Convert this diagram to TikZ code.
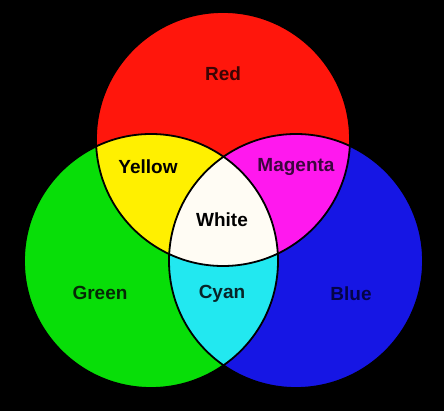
\documentclass[tikz,border=0pt]{standalone}
\usepackage{fontspec}
\setmainfont{Liberation Sans}
\definecolor{mixred}{RGB}{255,22,12}
\definecolor{mixgreen}{RGB}{8,222,8}
\definecolor{mixblue}{RGB}{22,22,228}
\definecolor{mixyellow}{RGB}{255,240,0}
\definecolor{mixmagenta}{RGB}{255,24,238}
\definecolor{mixcyan}{RGB}{34,232,240}
\definecolor{mixwhite}{RGB}{255,252,244}
\definecolor{inkred}{RGB}{60,4,4}
\definecolor{inkgreen}{RGB}{6,40,6}
\definecolor{inkblue}{RGB}{4,4,70}
\definecolor{inkmagenta}{RGB}{60,6,62}
\definecolor{inkcyan}{RGB}{8,36,40}

\tikzset{
  ring/.style={draw=black, line width=1.8pt},
  tag/.style={font=\fontsize{19}{22}\selectfont\bfseries, inner sep=0pt}
}

\begin{document}
\begin{tikzpicture}[x=1pt, y=-1pt]

  % ---- background ----
  \fill[black] (0,0) rectangle (444,411);
  \useasboundingbox (0,0) rectangle (444,411);

  % ---- centres of the three lights ----
  \coordinate (cR) at (223,139);
  \coordinate (cG) at (151,261);
  \coordinate (cB) at (296,261);

  % ---- primaries ----
  \fill[mixred]   (cR) circle (127);
  \fill[mixgreen] (cG) circle (127);
  \fill[mixblue]  (cB) circle (127);

  % ---- pairs ----
  \begin{scope}
    \clip (cR) circle (127);
    \fill[mixyellow]  (cG) circle (127);
    \fill[mixmagenta] (cB) circle (127);
  \end{scope}
  \begin{scope}
    \clip (cG) circle (127);
    \fill[mixcyan] (cB) circle (127);
  \end{scope}

  % ---- all three ----
  \begin{scope}
    \clip (cR) circle (127);
    \clip (cG) circle (127);
    \fill[mixwhite] (cB) circle (127);
  \end{scope}

  % ---- outlines ----
  \draw[ring] (cR) circle (127);
  \draw[ring] (cG) circle (127);
  \draw[ring] (cB) circle (127);

  % ---- labels ----
  \node[tag, text=inkred]     (red)     at (223,74)  {Red};
  \node[tag, text=inkgreen]   (green)   at (100,293) {Green};
  \node[tag, text=inkblue]    (blue)    at (351,294) {Blue};
  \node[tag, text=black]      (yellow)  at (148,167) {Yellow};
  \node[tag, text=inkmagenta] (magenta) at (296,167) {Magenta};
  \node[tag, text=inkcyan]    (cyan)    at (222,294) {Cyan};
  \node[tag, text=black]      (white)   at (222,220) {White};

\end{tikzpicture}
\end{document}
